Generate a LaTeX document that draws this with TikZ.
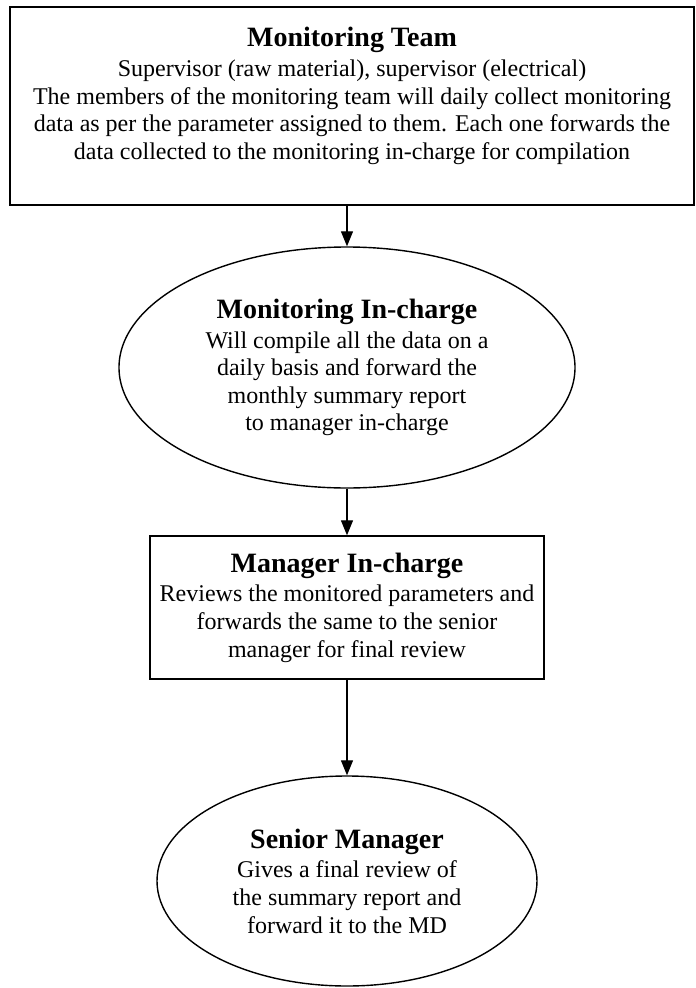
\documentclass[tikz,border=0pt]{standalone}
\usepackage{fontspec}
\setmainfont{Liberation Serif}
\usetikzlibrary{arrows.meta,shapes.geometric}

\newcommand{\stagetitle}[1]{{\fontsize{28}{32}\selectfont\bfseries #1}\\[2pt]}

\begin{document}
\begin{tikzpicture}[x=1pt,y=-1pt,
  every node/.style={align=center,font=\fontsize{24}{27.6}\selectfont},
  stagebox/.style={draw,line width=1.4pt,rectangle,inner sep=0pt},
  stageoval/.style={draw,line width=1.4pt,ellipse,inner sep=0pt}]
\useasboundingbox (0,0) rectangle (696,988);

\node[stagebox, minimum width=684pt, minimum height=198pt] (team) at (352,106) {};
\node (teamtext) at (352,96) {\stagetitle{Monitoring Team}
  Supervisor (raw material), supervisor (electrical)\\
  The members of the monitoring team will daily collect monitoring\\
  data as per the parameter assigned to them. Each one forwards the\\
  data collected to the monitoring in-charge for compilation};

\node[stageoval, minimum width=456pt, minimum height=241pt] (incharge) at (347,367.5)
  {\stagetitle{Monitoring In-charge}
  Will compile all the data on a\\
  daily basis and forward the\\
  monthly summary report\\
  to manager in-charge};

\node[stagebox, minimum width=394pt, minimum height=143pt] (manager) at (347,607.5)
  {\stagetitle{Manager In-charge}
  Reviews the monitored parameters and\\
  forwards the same to the senior\\
  manager for final review};

\node[stageoval, minimum width=380pt, minimum height=210pt] (senior) at (347,881)
  {\stagetitle{Senior Manager}
  Gives a final review of\\
  the summary report and\\
  forward it to the MD};

\path[line width=1.2pt, -{Triangle[length=15pt,width=12pt]}]
    (incharge.north |- team.south) edge (incharge.north)
    (incharge) edge (manager)
    (manager) edge (senior);
\end{tikzpicture}
\end{document}
